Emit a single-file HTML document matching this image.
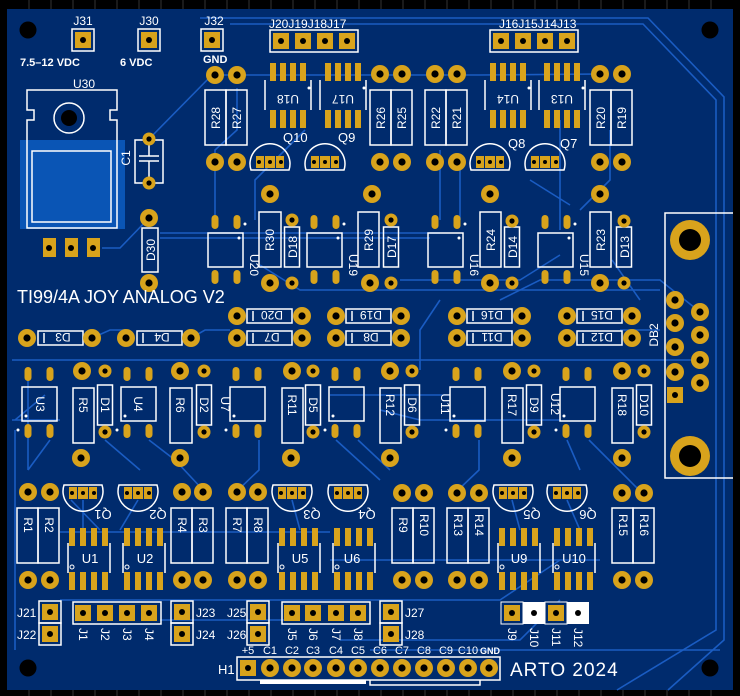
<!DOCTYPE html>
<html><head><meta charset="utf-8"><style>
html,body{margin:0;padding:0;background:#000;}
svg{display:block;font-family:"Liberation Sans",sans-serif;}
</style></head><body>
<svg width="740" height="696" viewBox="0 0 740 696" xmlns="http://www.w3.org/2000/svg">
<defs>
<g id="rp"><circle r="9" fill="#d8a31c"/><circle r="3.6" fill="#000"/></g>
<g id="sp"><circle r="6.5" fill="#d8a31c"/><circle r="2.6" fill="#000"/></g>
<g id="sq"><rect x="-8" y="-8" width="16" height="16" fill="#d8a31c"/><circle r="3" fill="#000"/></g>
<g id="hd"><rect x="-11" y="-11" width="22" height="22" fill="none" stroke="#fff" stroke-width="1.5"/><rect x="-8" y="-8" width="16" height="16" fill="#d8a31c"/><circle r="3" fill="#000"/></g>
<g id="ov"><rect x="-3.5" y="-7" width="7" height="14" rx="3.5" fill="#d8a31c"/></g>
<g id="sm"><rect x="-3" y="-9" width="6" height="18" fill="#d8a31c"/></g>
<g id="opto"><rect x="0" y="0" width="35" height="34" fill="none" stroke="#fff" stroke-width="1.5"/></g>
<g id="dio"><rect x="-7.5" y="0" width="15" height="40" fill="none" stroke="#fff" stroke-width="1.5"/></g>
<g id="dioh"><rect x="0" y="-7" width="45" height="14" fill="none" stroke="#fff" stroke-width="1.5"/><line x1="6" y1="-5" x2="6" y2="5" stroke="#fff" stroke-width="1.5"/></g>
<g id="r2"><rect x="0" y="0" width="21" height="55" fill="none" stroke="#fff" stroke-width="1.5"/><rect x="21" y="0" width="21" height="55" fill="none" stroke="#fff" stroke-width="1.5"/></g>
<g id="q"><path d="M-19,8 A20,20 0 1 1 19,8 Z" fill="none" stroke="#fff" stroke-width="1.5"/><rect x="-14" y="-6" width="28" height="12" fill="#d8a31c"/><circle cx="-11" r="2" fill="#000"/><circle cx="0" r="2" fill="#000"/><circle cx="11" r="2" fill="#000"/><line x1="-5.5" y1="-6" x2="-5.5" y2="6" stroke="#002b6d"/><line x1="5.5" y1="-6" x2="5.5" y2="6" stroke="#002b6d"/></g>
<g id="qd"><path d="M-19,-8 A20,20 0 1 0 19,-8 Z" fill="none" stroke="#fff" stroke-width="1.5"/><rect x="-14" y="-6" width="28" height="12" fill="#d8a31c"/><circle cx="-11" r="2" fill="#000"/><circle cx="0" r="2" fill="#000"/><circle cx="11" r="2" fill="#000"/><line x1="-5.5" y1="-6" x2="-5.5" y2="6" stroke="#002b6d"/><line x1="5.5" y1="-6" x2="5.5" y2="6" stroke="#002b6d"/></g>
<g id="soicT"><use href="#sm" x="0" y="72"/><use href="#sm" x="10" y="72"/><use href="#sm" x="20" y="72"/><use href="#sm" x="30" y="72"/>
<use href="#sm" x="0" y="119"/><use href="#sm" x="10" y="119"/><use href="#sm" x="20" y="119"/><use href="#sm" x="30" y="119"/>
<path d="M-8,80 V110 M38,80 V110" stroke="#fff" stroke-width="1.5"/><circle cx="36" cy="88" r="1.5" fill="#fff"/></g>
<g id="optoT"><use href="#opto" x="0" y="233"/><use href="#ov" x="7" y="222"/><use href="#ov" x="29" y="222"/><use href="#ov" x="7" y="277"/><use href="#ov" x="29" y="277"/><circle cx="37" cy="224" r="1.5" fill="#fff"/><circle cx="31" cy="238" r="1.5" fill="#fff"/></g>
<g id="optoM"><use href="#opto" x="0" y="387"/><use href="#ov" x="6" y="374"/><use href="#ov" x="28" y="374"/><use href="#ov" x="6" y="431"/><use href="#ov" x="28" y="431"/><circle cx="-4" cy="430" r="1.5" fill="#fff"/><circle cx="4" cy="416" r="1.5" fill="#fff"/></g>
<g id="soicB"><use href="#sm" x="0" y="537"/><use href="#sm" x="11" y="537"/><use href="#sm" x="22" y="537"/><use href="#sm" x="33" y="537"/>
<use href="#sm" x="0" y="581"/><use href="#sm" x="11" y="581"/><use href="#sm" x="22" y="581"/><use href="#sm" x="33" y="581"/>
<path d="M-4,543 V573 M38,543 V573" stroke="#fff" stroke-width="1.5"/><circle cx="0" cy="567" r="2" fill="none" stroke="#fff" stroke-width="1"/></g>
</defs>
<rect width="740" height="696" fill="#000"/>
<g stroke="#333" stroke-width="1">
<path d="M29,690v6M51,690v6M73,690v6M95,690v6M117,690v6M139,690v6M161,690v6M183,690v6M205,690v6M227,690v6M249,690v6M271,690v6M293,690v6M315,690v6M337,690v6M359,690v6M381,690v6M403,690v6M425,690v6M447,690v6M469,690v6M491,690v6M513,690v6M535,690v6M557,690v6M579,690v6M601,690v6M623,690v6M645,690v6M667,690v6M689,690v6M711,690v6"/>
<path d="M29,0v9M51,0v9M73,0v9M95,0v9M117,0v9M139,0v9M161,0v9M183,0v9M205,0v9M227,0v9M249,0v9M271,0v9M293,0v9M315,0v9M337,0v9M359,0v9M381,0v9M403,0v9M425,0v9M447,0v9M469,0v9M491,0v9M513,0v9M535,0v9M557,0v9M579,0v9M601,0v9M623,0v9M645,0v9M667,0v9M689,0v9M711,0v9"/>
</g>
<rect x="7" y="9" width="726" height="681" fill="#002b6d"/>
<g fill="none" stroke="#1a5cc2" stroke-width="1.6">
<path d="M200,18 H648 L724,97 V640 L668,690"/>
<path d="M230,24 H643 L716,100 V630 L617,690"/>
<path d="M149,139 L212,75 H290 M237,75 H480 L600,74"/>
<path d="M102,248 H120 L149,218"/>
<path d="M160,233 H440 M160,238 H430"/>
<path d="M15,430 V650 M12,420 H60 M15,420 L45,395"/>
<path d="M237,88 V130 L215,150 V220 M305,130 L255,180 V220"/>
<path d="M440,150 V220 M460,170 V220 M560,120 V230 M580,210 L610,180 V130"/>
<path d="M260,265 L300,290 H660 M400,280 H520 L560,255"/>
<path d="M28,380 V470 M50,440 L28,470 M105,440 L140,470 M149,440 L175,460 L204,491"/>
<path d="M259,440 V470 L237,491 M336,440 L380,480 M358,440 L390,470 M479,440 V470 L457,491 M567,440 L580,470 M589,440 L640,491"/>
<path d="M60,532 H330 M60,600 H500 L560,560 M160,620 H300"/>
<path d="M330,560 H600 M340,640 H520 L560,600 M370,650 H720"/>
<path d="M500,300 L540,280 H660 L700,312 M620,330 H660"/>
<path d="M92,338 L110,330 H125 M191,338 L205,330 H230"/>
<path d="M330,395 H450 M12,360 H700 M380,410 L420,420 H560"/>
<path d="M71,500 L100,530 M83,500 V540 M138,500 L120,530 M292,500 L300,530 M512,500 L520,530 M567,500 L580,530"/>
<path d="M612,260 L640,300 M440,300 L420,330 V370 M530,180 L570,205"/>
</g>
<circle cx="28" cy="30" r="8.5" fill="#000"/><circle cx="710" cy="30" r="8.5" fill="#000"/>
<circle cx="28" cy="668" r="8.5" fill="#000"/><circle cx="710" cy="668" r="8.5" fill="#000"/>
<g font-size="12" fill="#fff">
<use href="#hd" x="83" y="40"/><use href="#hd" x="149" y="40"/><use href="#hd" x="212" y="40"/>
<text x="83" y="25" text-anchor="middle">J31</text><text x="149" y="25" text-anchor="middle">J30</text><text x="214" y="25" text-anchor="middle">J32</text>
<text x="20" y="66" font-size="11" font-weight="bold">7.5–12 VDC</text>
<text x="120" y="66" font-size="11" font-weight="bold">6 VDC</text>
<text x="203" y="63" font-size="11" font-weight="bold">GND</text>
<text x="84" y="88" text-anchor="middle">U30</text>
</g>
<rect x="20" y="140" width="105" height="89" fill="#0a55b5"/>
<path d="M27,90 H117 V110 H110 V120 H117 V228 H27 V120 H34 V110 H27 Z" fill="none" stroke="#fff" stroke-width="1.5"/>
<rect x="32" y="151" width="79" height="71" fill="#0a55b5" stroke="#fff" stroke-width="1.5"/>
<circle cx="69" cy="118" r="15" fill="none" stroke="#fff" stroke-width="1.5"/><circle cx="69" cy="118" r="8" fill="#000"/>
<g><rect x="43" y="238" width="13" height="19" fill="#d8a31c"/><rect x="65" y="238" width="13" height="19" fill="#d8a31c"/><rect x="87" y="238" width="13" height="19" fill="#d8a31c"/>
<circle cx="49" cy="248" r="3" fill="#000"/><circle cx="71" cy="248" r="3" fill="#000"/><circle cx="93" cy="248" r="3" fill="#000"/></g>
<rect x="135" y="140" width="28" height="43" fill="none" stroke="#fff" stroke-width="1.5"/>
<path d="M149,145 V156 M139,156 H159 M139,161 H159 M149,161 V178" stroke="#fff" stroke-width="1.5"/>
<use href="#sp" x="149" y="139"/><use href="#sp" x="149" y="183"/>
<text x="130" y="158" fill="#fff" font-size="12" transform="rotate(-90 130 158)" text-anchor="middle">C1</text>
<rect x="142" y="228" width="16" height="44" fill="none" stroke="#fff" stroke-width="1.5"/>
<use href="#rp" x="149" y="218"/><use href="#rp" x="149" y="283"/>
<text x="155" y="250" fill="#fff" font-size="12" transform="rotate(-90 155 250)" text-anchor="middle">D30</text>
<text x="17" y="303" fill="#fff" font-size="18">TI99/4A JOY ANALOG V2</text>
<g>
<rect x="270" y="30" width="88" height="22" fill="none" stroke="#fff" stroke-width="1.5"/>
<rect x="490" y="30" width="88" height="22" fill="none" stroke="#fff" stroke-width="1.5"/>
<use href="#sq" x="281" y="41"/><use href="#sq" x="303" y="41"/><use href="#sq" x="325" y="41"/><use href="#sq" x="347" y="41"/>
<use href="#sq" x="501" y="41"/><use href="#sq" x="523" y="41"/><use href="#sq" x="545" y="41"/><use href="#sq" x="567" y="41"/>
<text x="269" y="28" fill="#fff" font-size="12">J20J19J18J17</text>
<text x="499" y="28" fill="#fff" font-size="12">J16J15J14J13</text>
</g>
<use href="#soicT" x="273" y="0"/><use href="#soicT" x="328" y="0"/>
<use href="#soicT" x="493" y="0"/><use href="#soicT" x="547" y="0"/>
<g fill="#fff" font-size="12">
<text x="288" y="95" text-anchor="middle" transform="rotate(180 288 95)">U18</text>
<text x="343" y="95" text-anchor="middle" transform="rotate(180 343 95)">U17</text>
<text x="508" y="95" text-anchor="middle" transform="rotate(180 508 95)">U14</text>
<text x="562" y="95" text-anchor="middle" transform="rotate(180 562 95)">U13</text>
</g>
<use href="#r2" x="205" y="90"/><use href="#r2" x="370" y="90"/><use href="#r2" x="425" y="90"/><use href="#r2" x="590" y="90"/>
<g fill="#fff" font-size="12">
<text transform="translate(220,118) rotate(-90)" text-anchor="middle">R28</text>
<text transform="translate(241,118) rotate(-90)" text-anchor="middle">R27</text>
<text transform="translate(385,118) rotate(-90)" text-anchor="middle">R26</text>
<text transform="translate(406,118) rotate(-90)" text-anchor="middle">R25</text>
<text transform="translate(440,118) rotate(-90)" text-anchor="middle">R22</text>
<text transform="translate(461,118) rotate(-90)" text-anchor="middle">R21</text>
<text transform="translate(605,118) rotate(-90)" text-anchor="middle">R20</text>
<text transform="translate(626,118) rotate(-90)" text-anchor="middle">R19</text>
</g>
<g>
<use href="#rp" x="215" y="75"/><use href="#rp" x="237" y="75"/><use href="#rp" x="215" y="162"/><use href="#rp" x="237" y="162"/>
<use href="#rp" x="380" y="74"/><use href="#rp" x="402" y="74"/><use href="#rp" x="380" y="162"/><use href="#rp" x="402" y="162"/>
<use href="#rp" x="435" y="74"/><use href="#rp" x="457" y="74"/><use href="#rp" x="435" y="162"/><use href="#rp" x="457" y="162"/>
<use href="#rp" x="600" y="74"/><use href="#rp" x="622" y="74"/><use href="#rp" x="600" y="162"/><use href="#rp" x="622" y="162"/>
<use href="#rp" x="270" y="194"/><use href="#rp" x="372" y="194"/><use href="#rp" x="490" y="194"/><use href="#rp" x="600" y="194"/>
</g>
<use href="#q" x="270" y="162"/><use href="#q" x="325" y="162"/><use href="#q" x="490" y="162"/><use href="#q" x="545" y="162"/>
<g fill="#fff" font-size="13">
<text x="283" y="142">Q10</text><text x="338" y="142">Q9</text><text x="508" y="148">Q8</text><text x="560" y="148">Q7</text>
</g>
<use href="#optoT" x="208" y="0"/><use href="#optoT" x="307" y="0"/><use href="#optoT" x="428" y="0"/><use href="#optoT" x="538" y="0"/>
<g fill="#fff" font-size="12">
<text transform="translate(250,265) rotate(90)" text-anchor="middle">U20</text>
<text transform="translate(349,265) rotate(90)" text-anchor="middle">U19</text>
<text transform="translate(470,265) rotate(90)" text-anchor="middle">U16</text>
<text transform="translate(580,265) rotate(90)" text-anchor="middle">U15</text>
</g>
<g fill="none" stroke="#fff" stroke-width="1.5">
<rect x="259" y="212" width="22" height="55"/><rect x="358" y="212" width="21" height="55"/><rect x="480" y="212" width="21" height="55"/><rect x="590" y="212" width="21" height="55"/>
</g>
<use href="#dio" x="292" y="227"/><use href="#dio" x="391" y="227"/><use href="#dio" x="512" y="227"/><use href="#dio" x="624" y="227"/>
<g fill="#fff" font-size="12">
<text transform="translate(274,240) rotate(-90)" text-anchor="middle">R30</text>
<text transform="translate(373,240) rotate(-90)" text-anchor="middle">R29</text>
<text transform="translate(495,240) rotate(-90)" text-anchor="middle">R24</text>
<text transform="translate(605,240) rotate(-90)" text-anchor="middle">R23</text>
<text transform="translate(297,247) rotate(-90)" text-anchor="middle">D18</text>
<text transform="translate(396,247) rotate(-90)" text-anchor="middle">D17</text>
<text transform="translate(517,247) rotate(-90)" text-anchor="middle">D14</text>
<text transform="translate(629,247) rotate(-90)" text-anchor="middle">D13</text>
</g>
<g>
<use href="#sp" x="292" y="220"/><use href="#sp" x="292" y="283"/><use href="#rp" x="270" y="283"/>
<use href="#sp" x="391" y="220"/><use href="#sp" x="391" y="283"/><use href="#rp" x="370" y="283"/>
<use href="#sp" x="512" y="221"/><use href="#sp" x="512" y="283"/><use href="#rp" x="490" y="283"/>
<use href="#sp" x="624" y="221"/><use href="#sp" x="624" y="283"/><use href="#rp" x="600" y="283"/>
</g>
<g>
<use href="#dioh" x="247" y="316"/><use href="#dioh" x="247" y="338"/><use href="#dioh" x="346" y="316"/><use href="#dioh" x="346" y="338"/>
<use href="#dioh" x="467" y="316"/><use href="#dioh" x="467" y="338"/><use href="#dioh" x="577" y="316"/><use href="#dioh" x="577" y="338"/>
<use href="#dioh" x="38" y="338"/><use href="#dioh" x="137" y="338"/>
<use href="#rp" x="237" y="316"/><use href="#rp" x="302" y="316"/><use href="#rp" x="237" y="338"/><use href="#rp" x="302" y="338"/>
<use href="#rp" x="336" y="316"/><use href="#rp" x="401" y="316"/><use href="#rp" x="336" y="338"/><use href="#rp" x="401" y="338"/>
<use href="#rp" x="457" y="316"/><use href="#rp" x="522" y="316"/><use href="#rp" x="457" y="338"/><use href="#rp" x="522" y="338"/>
<use href="#rp" x="567" y="316"/><use href="#rp" x="632" y="316"/><use href="#rp" x="567" y="338"/><use href="#rp" x="632" y="338"/>
<use href="#rp" x="27" y="338"/><use href="#rp" x="92" y="338"/><use href="#rp" x="126" y="338"/><use href="#rp" x="191" y="338"/>
</g>
<g fill="#fff" font-size="12" text-anchor="middle">
<text transform="translate(272,311) rotate(180)">D20</text><text transform="translate(272,333) rotate(180)">D7</text>
<text transform="translate(371,311) rotate(180)">D19</text><text transform="translate(371,333) rotate(180)">D8</text>
<text transform="translate(492,311) rotate(180)">D16</text><text transform="translate(492,333) rotate(180)">D11</text>
<text transform="translate(602,311) rotate(180)">D15</text><text transform="translate(602,333) rotate(180)">D12</text>
<text transform="translate(63,333) rotate(180)">D3</text><text transform="translate(162,333) rotate(180)">D4</text>
</g>
<path d="M733,213 H665 V478 H733" fill="none" stroke="#fff" stroke-width="1.5"/>
<circle cx="690" cy="240" r="20" fill="#d8a31c"/><circle cx="690" cy="240" r="11" fill="#000"/>
<circle cx="690" cy="456" r="20" fill="#d8a31c"/><circle cx="690" cy="456" r="11" fill="#000"/>
<use href="#rp" x="675" y="300"/><use href="#rp" x="675" y="323"/><use href="#rp" x="675" y="347"/><use href="#rp" x="675" y="372"/><use href="#sq" x="675" y="395"/>
<use href="#rp" x="700" y="312"/><use href="#rp" x="700" y="335"/><use href="#rp" x="700" y="360"/><use href="#rp" x="700" y="383"/>
<text transform="translate(658,335) rotate(-90)" fill="#fff" font-size="12" text-anchor="middle">DB2</text>
<use href="#optoM" x="22" y="0"/><use href="#optoM" x="121" y="0"/><use href="#optoM" x="230" y="0"/><use href="#optoM" x="329" y="0"/><use href="#optoM" x="450" y="0"/><use href="#optoM" x="560" y="0"/>
<g fill="#fff" font-size="12" text-anchor="middle">
<text transform="translate(36,404) rotate(90)">U3</text><text transform="translate(134,404) rotate(90)">U4</text>
<text transform="translate(221,404) rotate(90)">U7</text><text transform="translate(441,404) rotate(90)">U11</text><text transform="translate(551,404) rotate(90)">U12</text>
</g>
<g fill="none" stroke="#fff" stroke-width="1.5">
<rect x="73" y="388" width="21" height="55"/><rect x="170" y="388" width="22" height="55"/><rect x="282" y="388" width="21" height="55"/><rect x="380" y="388" width="21" height="55"/><rect x="502" y="388" width="21" height="55"/><rect x="612" y="388" width="21" height="55"/>
</g>
<use href="#dio" x="105" y="385"/><use href="#dio" x="204" y="385"/><use href="#dio" x="313" y="385"/><use href="#dio" x="412" y="385"/><use href="#dio" x="534" y="385"/><use href="#dio" x="644" y="385"/>
<g fill="#fff" font-size="12" text-anchor="middle">
<text transform="translate(79,405) rotate(90)">R5</text><text transform="translate(176,405) rotate(90)">R6</text><text transform="translate(288,405) rotate(90)">R11</text>
<text transform="translate(386,405) rotate(90)">R12</text><text transform="translate(508,405) rotate(90)">R17</text><text transform="translate(618,405) rotate(90)">R18</text>
<text transform="translate(101,405) rotate(90)">D1</text><text transform="translate(200,405) rotate(90)">D2</text><text transform="translate(309,405) rotate(90)">D5</text>
<text transform="translate(408,405) rotate(90)">D6</text><text transform="translate(530,405) rotate(90)">D9</text><text transform="translate(640,405) rotate(90)">D10</text>
</g>
<g>
<use href="#sp" x="105" y="371"/><use href="#sp" x="105" y="432"/><use href="#rp" x="82" y="371"/><use href="#rp" x="81" y="458"/>
<use href="#sp" x="204" y="371"/><use href="#sp" x="204" y="432"/><use href="#rp" x="180" y="371"/><use href="#rp" x="180" y="458"/>
<use href="#sp" x="313" y="371"/><use href="#sp" x="313" y="432"/><use href="#rp" x="292" y="371"/><use href="#rp" x="291" y="458"/>
<use href="#sp" x="412" y="371"/><use href="#sp" x="412" y="432"/><use href="#rp" x="390" y="371"/><use href="#rp" x="390" y="458"/>
<use href="#sp" x="534" y="371"/><use href="#sp" x="534" y="432"/><use href="#rp" x="512" y="371"/><use href="#rp" x="512" y="458"/>
<use href="#sp" x="644" y="371"/><use href="#sp" x="644" y="432"/><use href="#rp" x="622" y="371"/><use href="#rp" x="622" y="458"/>
</g>
<g>
<use href="#rp" x="28" y="492"/><use href="#rp" x="50" y="492"/><use href="#rp" x="182" y="492"/><use href="#rp" x="203" y="492"/><use href="#rp" x="237" y="492"/><use href="#rp" x="258" y="492"/>
<use href="#rp" x="402" y="493"/><use href="#rp" x="424" y="493"/><use href="#rp" x="457" y="493"/><use href="#rp" x="479" y="493"/><use href="#rp" x="622" y="493"/><use href="#rp" x="644" y="493"/>
<use href="#rp" x="28" y="580"/><use href="#rp" x="50" y="580"/><use href="#rp" x="182" y="580"/><use href="#rp" x="203" y="580"/><use href="#rp" x="237" y="580"/><use href="#rp" x="258" y="580"/>
<use href="#rp" x="402" y="580"/><use href="#rp" x="424" y="580"/><use href="#rp" x="457" y="580"/><use href="#rp" x="479" y="580"/><use href="#rp" x="622" y="580"/><use href="#rp" x="644" y="580"/>
</g>
<use href="#qd" x="83" y="493"/><use href="#qd" x="138" y="493"/><use href="#qd" x="292" y="493"/><use href="#qd" x="348" y="493"/><use href="#qd" x="513" y="493"/><use href="#qd" x="567" y="493"/>
<g fill="#fff" font-size="13" text-anchor="middle">
<text transform="translate(103,510) rotate(180)">Q1</text><text transform="translate(158,510) rotate(180)">Q2</text><text transform="translate(312,510) rotate(180)">Q3</text>
<text transform="translate(367,510) rotate(180)">Q4</text><text transform="translate(532,510) rotate(180)">Q5</text><text transform="translate(588,510) rotate(180)">Q6</text>
</g>
<use href="#r2" x="17" y="508"/><use href="#r2" x="171" y="508"/><use href="#r2" x="226" y="508"/><use href="#r2" x="392" y="508"/><use href="#r2" x="447" y="508"/><use href="#r2" x="612" y="508"/>
<g fill="#fff" font-size="12" text-anchor="middle">
<text transform="translate(24,525) rotate(90)">R1</text><text transform="translate(45,525) rotate(90)">R2</text>
<text transform="translate(178,525) rotate(90)">R4</text><text transform="translate(199,525) rotate(90)">R3</text>
<text transform="translate(233,525) rotate(90)">R7</text><text transform="translate(254,525) rotate(90)">R8</text>
<text transform="translate(399,525) rotate(90)">R9</text><text transform="translate(420,525) rotate(90)">R10</text>
<text transform="translate(454,525) rotate(90)">R13</text><text transform="translate(475,525) rotate(90)">R14</text>
<text transform="translate(619,525) rotate(90)">R15</text><text transform="translate(640,525) rotate(90)">R16</text>
</g>
<use href="#soicB" x="72" y="0"/><use href="#soicB" x="127" y="0"/><use href="#soicB" x="282" y="0"/><use href="#soicB" x="337" y="0"/><use href="#soicB" x="502" y="0"/><use href="#soicB" x="557" y="0"/>
<g fill="#fff" font-size="13" text-anchor="middle">
<text x="90" y="563">U1</text><text x="145" y="563">U2</text><text x="300" y="563">U5</text><text x="352" y="563">U6</text><text x="519" y="563">U9</text><text x="574" y="563">U10</text>
</g>
<g>
<use href="#hd" x="50" y="612"/><use href="#hd" x="50" y="634"/><use href="#hd" x="182" y="612"/><use href="#hd" x="182" y="634"/>
<use href="#hd" x="258" y="612"/><use href="#hd" x="258" y="634"/><use href="#hd" x="391" y="612"/><use href="#hd" x="391" y="634"/>
<rect x="73" y="602" width="88" height="22" fill="none" stroke="#fff" stroke-width="1.5"/>
<use href="#sq" x="83" y="613"/><use href="#sq" x="105" y="613"/><use href="#sq" x="127" y="613"/><use href="#sq" x="149" y="613"/>
<rect x="282" y="602" width="88" height="22" fill="none" stroke="#fff" stroke-width="1.5"/>
<use href="#sq" x="292" y="613"/><use href="#sq" x="313" y="613"/><use href="#sq" x="336" y="613"/><use href="#sq" x="358" y="613"/>
<rect x="501" y="602" width="88" height="22" fill="#fff"/>
<rect x="501" y="602" width="22" height="22" fill="#002b6d" stroke="#fff"/><rect x="545" y="602" width="22" height="22" fill="#002b6d" stroke="#fff"/>
<use href="#sq" x="512" y="613"/><use href="#sq" x="556" y="613"/><circle cx="534" cy="613" r="3" fill="#000"/><circle cx="578" cy="613" r="3" fill="#000"/>
</g>
<g fill="#fff" font-size="12">
<text x="17" y="617">J21</text><text x="17" y="639">J22</text>
<text x="196" y="617">J23</text><text x="196" y="639">J24</text>
<text x="227" y="617">J25</text><text x="227" y="639">J26</text>
<text x="405" y="617">J27</text><text x="405" y="639">J28</text>
<g text-anchor="start">
<text transform="translate(79,628) rotate(90)">J1</text><text transform="translate(101,628) rotate(90)">J2</text><text transform="translate(123,628) rotate(90)">J3</text><text transform="translate(145,628) rotate(90)">J4</text>
<text transform="translate(288,628) rotate(90)">J5</text><text transform="translate(309,628) rotate(90)">J6</text><text transform="translate(332,628) rotate(90)">J7</text><text transform="translate(354,628) rotate(90)">J8</text>
<text transform="translate(508,628) rotate(90)">J9</text><text transform="translate(530,628) rotate(90)">J10</text><text transform="translate(552,628) rotate(90)">J11</text><text transform="translate(574,628) rotate(90)">J12</text>
</g>
</g>
<rect x="237" y="657" width="263" height="23" fill="none" stroke="#fff" stroke-width="1.5"/>
<rect x="260" y="680" width="106" height="4" fill="#fff"/>
<path d="M370,680 V685 H480 V680" fill="none" stroke="#fff" stroke-width="1.5"/>
<use href="#sq" x="248" y="668"/>
<use href="#rp" x="270" y="668"/><use href="#rp" x="292" y="668"/><use href="#rp" x="313" y="668"/><use href="#rp" x="336" y="668"/><use href="#rp" x="358" y="668"/><use href="#rp" x="380" y="668"/><use href="#rp" x="402" y="668"/><use href="#rp" x="424" y="668"/><use href="#rp" x="446" y="668"/><use href="#rp" x="468" y="668"/><use href="#rp" x="489" y="668"/>
<g fill="#fff" font-size="11" text-anchor="middle">
<text x="248" y="654">+5</text><text x="270" y="654">C1</text><text x="292" y="654">C2</text><text x="313" y="654">C3</text><text x="336" y="654">C4</text><text x="358" y="654">C5</text><text x="380" y="654">C6</text><text x="402" y="654">C7</text><text x="424" y="654">C8</text><text x="446" y="654">C9</text><text x="468" y="654">C10</text><text x="490" y="654" font-size="9" font-weight="bold">GND</text>
</g>
<text x="218" y="674" fill="#fff" font-size="13">H1</text>
<text x="510" y="676" fill="#fff" font-size="19" letter-spacing="1">ARTO 2024</text>
</svg>
</body></html>
